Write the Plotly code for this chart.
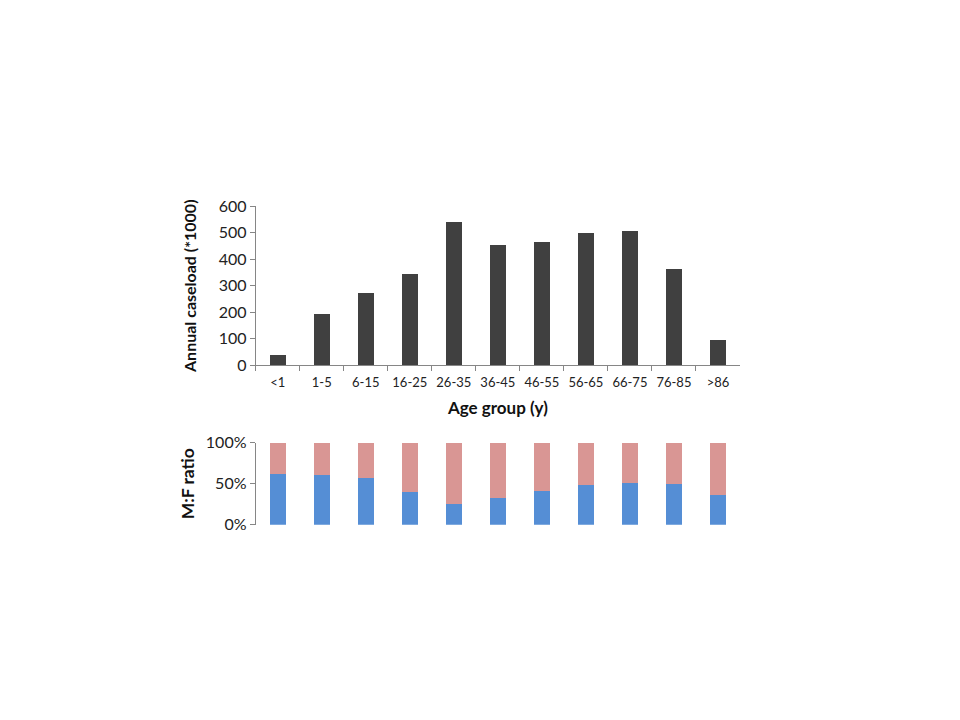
import plotly.graph_objects as go

age_groups = ["<1", "1-5", "6-15", "16-25", "26-35", "36-45", "46-55", "56-65", "66-75", "76-85", ">86"]
caseload = [38, 192, 274, 344, 540, 454, 465, 500, 508, 364, 94]
male_share = [0.617, 0.605, 0.565, 0.395, 0.255, 0.328, 0.415, 0.48, 0.504, 0.492, 0.366]
female_share = [round(1 - m, 3) for m in male_share]

W, H = 960, 720
OFF = 8  # default page body margin


def py(t):
    # target screen row -> paper row
    return (t - 9.6) / 0.974 - OFF


x0, x1 = 255.7 - OFF, 740 - OFF
top_y0, top_y1 = py(364.7), py(205.7)
bot_y0, bot_y1 = py(524.3), py(442.3)

fig = go.Figure()
fig.add_trace(go.Bar(x=age_groups, y=caseload, marker_color="#404040",
                     marker_line_width=0, xaxis="x", yaxis="y", showlegend=False))
fig.add_trace(go.Bar(x=age_groups, y=male_share, marker_color="#558ED5",
                     marker_line_width=0, xaxis="x2", yaxis="y2", showlegend=False))
fig.add_trace(go.Bar(x=age_groups, y=female_share, marker_color="#D99694",
                     marker_line_width=0, xaxis="x2", yaxis="y2", showlegend=False))

font = "Lato, 'Open Sans', sans-serif"
axis_col = "#868686"

fig.update_layout(
    width=W, height=H,
    margin=dict(l=0, r=0, t=0, b=0),
    paper_bgcolor="white", plot_bgcolor="white",
    barmode="stack", bargap=0.63,
    font=dict(family=font, color="#222222"),
    xaxis=dict(domain=[x0 / W, x1 / W], anchor="y", type="category",
               showline=True, linecolor=axis_col, linewidth=1,
               ticks="outside", tickson="boundaries", ticklen=5, tickcolor=axis_col,
               ticklabelstandoff=5, tickangle=0,
               tickfont=dict(size=13, color="#222222"), showgrid=False,
               title=dict(text="<b>Age group (y)</b>", font=dict(size=17, color="#111111"), standoff=13)),
    yaxis=dict(domain=[1 - top_y0 / H, 1 - top_y1 / H], anchor="x", range=[0, 600],
               dtick=100, showline=True, linecolor=axis_col, linewidth=1,
               ticks="outside", ticklen=5, tickcolor=axis_col, showgrid=False, zeroline=False,
               tickfont=dict(size=16, color="#222222"),
               title=dict(text="<b>Annual caseload (*1000)</b>", font=dict(size=16, color="#111111"), standoff=18)),
    xaxis2=dict(domain=[x0 / W, x1 / W], anchor="y2", type="category",
                showline=False, ticks="", showticklabels=False, showgrid=False),
    yaxis2=dict(domain=[1 - bot_y0 / H, 1 - bot_y1 / H], anchor="x2", range=[0, 1],
                tickvals=[0, 0.5, 1], ticktext=["0%", "50%", "100%"],
                showline=True, linecolor=axis_col, linewidth=1,
                ticks="outside", ticklen=5, tickcolor=axis_col, showgrid=False, zeroline=False,
                tickfont=dict(size=16, color="#222222"),
                title=dict(text="<b>M:F ratio</b>", font=dict(size=17.5, color="#111111"), standoff=6)),
)

fig.write_html("out.html")
